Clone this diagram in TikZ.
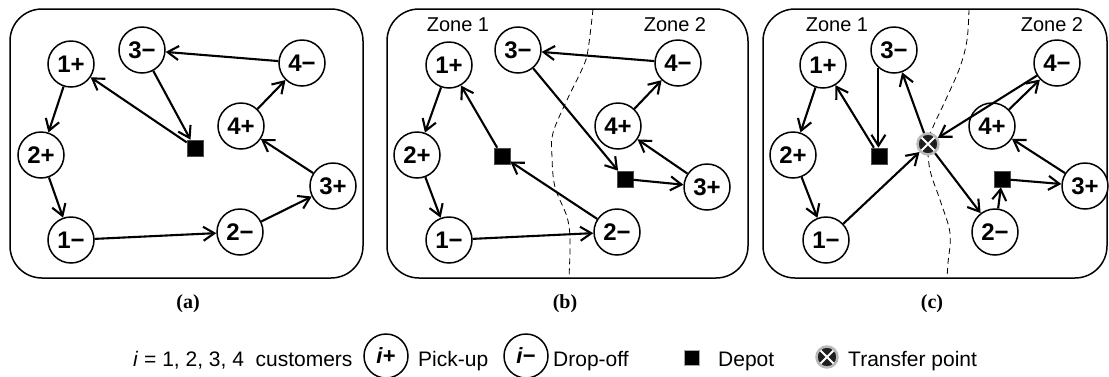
\documentclass[tikz,border=0pt]{standalone}
\usepackage{fontspec}
\setmainfont{Liberation Sans}
\newfontfamily\capfont{Liberation Serif}
\usetikzlibrary{arrows.meta}

\tikzset{
  cust/.style={circle, draw, fill=white, line width=1.5pt, minimum size=46pt,
    inner sep=0pt, font=\fontsize{24}{24}\selectfont\bfseries},
  depot/.style={rectangle, fill=black, draw=black!70, line width=0.6pt,
    minimum size=16pt, inner sep=0pt},
  transfer/.style={circle, fill=black!88, draw=gray!55, line width=2.5pt,
    minimum size=21pt, inner sep=0pt,
    path picture={\draw[white, line width=2pt]
      (path picture bounding box.south west) -- (path picture bounding box.north east)
      (path picture bounding box.north west) -- (path picture bounding box.south east);}},
  route/.style={line width=2.1pt, -{Straight Barb[length=11pt,width=14pt]}},
  panel/.style={draw, line width=1.5pt, rounded corners=32pt},
  zoneline/.style={line width=0.8pt, dash pattern=on 6pt off 4pt},
  zonelabel/.style={font=\fontsize{20}{20}\selectfont, inner sep=0pt},
  caption/.style={font=\capfont\bfseries\fontsize{20}{20}\selectfont, inner sep=0pt},
  legtext/.style={font=\fontsize{21}{21}\selectfont, inner sep=0pt, anchor=base west},
  legcust/.style={cust, minimum size=44pt, font=\fontsize{22}{22}\selectfont\bfseries}
}

\begin{document}
\begin{tikzpicture}[x=1pt, y=-1pt]
\useasboundingbox (0,0) rectangle (1109,376);

% ---------- frames ----------
\draw[panel] (10,9) rectangle (363,278);
\draw[panel] (387,9) rectangle (748,278);
\draw[panel] (763,9) rectangle (1107,278);

% ---------- zone borders ----------
\draw[zoneline] plot[smooth, tension=0.6] coordinates
  {(593,9) (588,50) (583,67) (567,100) (553,133) (552,157) (555,187) (567,217) (570,240) (569,278)};
\draw[zoneline] plot[smooth, tension=0.6] coordinates
  {(969,9) (967,40) (960,67) (947,97) (933,127) (928,143) (930,170) (940,200) (950,233) (948,263) (947,278)};

% ---------- (a) single depot ----------
\node[cust] (a1p) at (71,64) {1+};
\node[cust] (a3m) at (142,50) {3−};
\node[cust] (a4m) at (302,63) {4−};
\node[cust] (a4p) at (241,126) {4+};
\node[cust] (a2p) at (41,155) {2+};
\node[cust] (a3p) at (333,186) {3+};
\node[cust] (a1m) at (71,240) {1−};
\node[cust] (a2m) at (240,232) {2−};
\node[depot] (ad) at (195,148) {};

\draw[route] (a1p) -- (a2p);
\draw[route] (a2p) -- (a1m);
\draw[route] (a1m) -- (a2m);
\draw[route] (a2m) -- (a3p);
\draw[route] (a3p) -- (a4p);
\draw[route] (a4p) -- (a4m);
\draw[route] (a4m) -- (a3m);
\draw[route] (a3m) -- (ad);
\draw[route] (ad) -- (a1p);

\node[caption] (capa) at (188,304) {(a)};

% ---------- (b) two zones, two depots ----------
\node[zonelabel] (bz1) at (458,25) {Zone 1};
\node[zonelabel] (bz2) at (675,25) {Zone 2};
\node[cust] (b1p) at (449,65) {1+};
\node[cust] (b3m) at (518,50) {3−};
\node[cust] (b4m) at (678,63) {4−};
\node[cust] (b4p) at (618,126) {4+};
\node[cust] (b2p) at (417,155) {2+};
\node[cust] (b3p) at (707,187) {3+};
\node[cust] (b1m) at (449,240) {1−};
\node[cust] (b2m) at (617,232) {2−};
\node[depot] (bd1) at (502,156) {};
\node[depot] (bd2) at (625,179) {};

\draw[route] (b1p) -- (b2p);
\draw[route] (b2p) -- (b1m);
\draw[route] (b1m) -- (b2m);
\draw[route] (b2m) -- (bd1);
\draw[route] (bd1) -- (b1p);
\draw[route] (b4m) -- (b3m);
\draw[route] (b3m) -- (bd2);
\draw[route] (bd2) -- (b3p);
\draw[route] (b3p) -- (b4p);
\draw[route] (b4p) -- (b4m);

\node[caption] (capb) at (565,304) {(b)};

% ---------- (c) two zones with a transfer point ----------
\node[zonelabel] (cz1) at (837,25) {Zone 1};
\node[zonelabel] (cz2) at (1052,25) {Zone 2};
\node[cust] (c1p) at (823,65) {1+};
\node[cust] (c3m) at (894,50) {3−};
\node[cust] (c4m) at (1057,63) {4−};
\node[cust] (c4p) at (992,126) {4+};
\node[cust] (c2p) at (793,155) {2+};
\node[cust] (c3p) at (1085,186) {3+};
\node[cust] (c1m) at (826,240) {1−};
\node[cust] (c2m) at (995,232) {2−};
\node[depot] (cd1) at (879,156) {};
\node[depot] (cd2) at (1002,179) {};
\node[transfer] (ct) at (928,144) {};

\draw[route] (c1p) -- (c2p);
\draw[route] (c2p) -- (c1m);
\draw[route] (c1m) -- (ct);
\draw[route] (ct) -- (c2m);
\draw[route] (c2m) -- (cd2);
\draw[route] (cd2) -- (c3p);
\draw[route] (c3p) -- (c4p);
\draw[route] (c4p) -- (c4m);
\draw[route] (c4m) -- (ct);
\draw[route] (ct) -- (c3m);
\draw[route] (c3m.-131) -- (c3m.-131 |- cd1.north);
\draw[route] (cd1) -- (c1p);

\node[caption] (capc) at (932,304) {(c)};

% ---------- legend ----------
\node[legtext] (lcust) at (133,366) {\textit{i} = 1, 2, 3, 4\ \ customers};
\node[legcust] (lpick) at (386,356) {\textit{i}+};
\node[legtext] (lpickt) at (418,366) {Pick-up};
\node[legcust] (ldrop) at (526,356) {\textit{i}−};
\node[legtext] (ldropt) at (553,366) {Drop-off};
\node[depot, minimum size=15pt, draw=gray!70, line width=1pt] (ldep) at (692,358) {};
\node[legtext] (ldept) at (718,366) {Depot};
\node[transfer] (ltr) at (827,357) {};
\node[legtext] (ltrt) at (848,366) {Transfer point};
\end{tikzpicture}
\end{document}
